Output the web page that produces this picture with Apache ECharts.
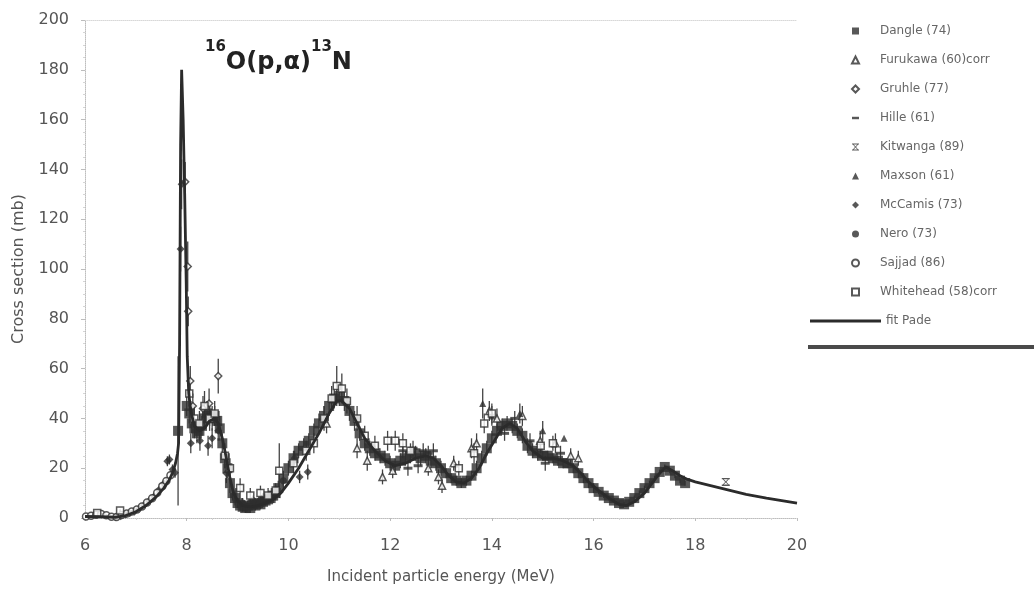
<!DOCTYPE html>
<html>
<head>
<meta charset="utf-8">
<script src="https://cdn.jsdelivr.net/npm/echarts@6/dist/echarts.min.js"></script>
<style>
  html, body { margin: 0; padding: 0; background: #fff; }
  #chart { width: 1034px; height: 596px; }
</style>
</head>
<body>
<div id="chart"></div>
<script>
// 16O(p,alpha)13N excitation function.
// each point: [energy MeV, cross section mb, error mb]
const fitE = [6.0, 6.3, 6.6, 6.8, 7.0, 7.2, 7.4, 7.55, 7.65, 7.72, 7.78, 7.82, 7.84, 7.86, 7.88, 7.9, 7.93, 7.96,
  7.99, 8.01, 8.04, 8.08, 8.15, 8.25, 8.35, 8.45, 8.55, 8.62, 8.7, 8.78, 8.85, 8.92, 9.0, 9.1, 9.25, 9.4, 9.55,
  9.7, 9.85, 10.0, 10.2, 10.4, 10.6, 10.8, 10.95, 11.05, 11.2, 11.35, 11.5, 11.7, 11.9, 12.1, 12.3, 12.5, 12.7,
  12.85, 13.0, 13.15, 13.3, 13.45, 13.6, 13.75, 13.9, 14.05, 14.2, 14.35, 14.5, 14.65, 14.8, 15.0, 15.2, 15.4,
  15.6, 15.75, 15.9, 16.1, 16.3, 16.5, 16.65, 16.8, 17.0, 17.15, 17.3, 17.42, 17.55, 17.7, 17.85, 18.0, 18.3,
  18.6, 19.0, 19.4, 19.7, 20.0];
const fitY = [0.6, 0.5, 0.3, 1.0, 2.5, 5, 8.5, 12, 15, 18, 22, 26, 30, 70, 150, 180, 160, 130,
  95, 65, 50, 43, 37, 35, 36, 39, 40, 38, 32, 24, 16, 10, 7, 5, 4.5, 5, 6,
  7.5, 10, 14, 20, 27, 34, 42, 47, 47, 44, 38, 32, 27, 23, 21, 22, 24, 25,
  24, 21, 17, 14.5, 14, 16, 20, 26, 31, 36, 38, 36, 31, 27, 24, 24, 23,
  21, 18, 14.5, 11, 8, 5.5, 5, 6.5, 10, 14, 18, 20.5, 19, 17, 15.5, 14.5, 13,
  11.5, 9.5, 8, 7, 6];

const dangle = [
  [7.83, 35, 30], [8.0, 45, 4], [8.05, 42, 4], [8.1, 38, 4], [8.15, 36, 4], [8.2, 34, 4],
  [8.25, 35, 4], [8.3, 37, 4], [8.35, 40, 4], [8.4, 42, 5], [8.45, 41, 4], [8.5, 40, 5], [8.55, 41, 4],
  [8.6, 39, 4], [8.65, 36, 5], [8.7, 30, 4], [8.75, 24, 4], [8.8, 20, 4], [8.85, 14, 4], [8.9, 10, 3],
  [8.95, 8, 3], [9.0, 6, 2], [9.05, 5, 2], [9.1, 4.5, 2], [9.15, 4, 2], [9.2, 5, 2], [9.25, 4, 2],
  [9.3, 5.5, 2], [9.35, 5, 2], [9.4, 6, 2], [9.45, 5.5, 2], [9.5, 6.5, 2], [9.55, 7, 2], [9.6, 7.5, 2],
  [9.65, 8, 2], [9.7, 9, 3], [9.75, 10, 3], [9.8, 12, 3], [9.9, 16, 3], [10.0, 20, 3], [10.1, 24, 3],
  [10.2, 27, 3], [10.3, 29, 3], [10.4, 31, 3], [10.5, 35, 3], [10.6, 38, 4], [10.7, 41, 4], [10.8, 45, 4],
  [10.9, 48, 4], [11.0, 49, 4], [11.1, 47, 4], [11.2, 43, 4], [11.3, 39, 4], [11.4, 34, 3], [11.5, 30, 3],
  [11.6, 28, 3], [11.7, 26, 3], [11.8, 25, 3], [11.9, 24, 3], [12.0, 22, 3], [12.1, 21, 3], [12.2, 23, 3],
  [12.3, 24, 3], [12.4, 25, 3], [12.5, 26, 3], [12.6, 24, 3], [12.7, 25, 3], [12.8, 23, 3], [12.9, 22, 3],
  [13.0, 20, 3], [13.1, 18, 2], [13.2, 16, 2], [13.3, 15, 2], [13.4, 14, 2], [13.5, 15, 2], [13.6, 17, 2],
  [13.7, 20, 3], [13.8, 24, 3], [13.9, 28, 3], [14.0, 32, 3], [14.1, 35, 3], [14.2, 37, 3], [14.3, 38, 3],
  [14.4, 37, 3], [14.5, 35, 3], [14.6, 33, 3], [14.7, 29, 3], [14.8, 27, 3], [14.9, 26, 3], [15.0, 25, 2],
  [15.1, 25, 2], [15.2, 24, 2], [15.3, 23, 2], [15.4, 22, 2], [15.5, 22, 2], [15.6, 20, 2], [15.7, 18, 2],
  [15.8, 16, 2], [15.9, 14, 2], [16.0, 12, 2], [16.1, 10.5, 1], [16.2, 9, 1], [16.3, 8, 1], [16.4, 7, 1],
  [16.5, 6, 1], [16.6, 5.5, 1], [16.7, 6.5, 1], [16.8, 8, 1], [16.9, 10, 1], [17.0, 12, 1], [17.1, 14, 1],
  [17.2, 16, 1], [17.3, 18.5, 1], [17.4, 20.5, 1], [17.5, 19, 1], [17.6, 17, 1], [17.7, 15, 1], [17.8, 14, 1]
];
const furukawa = [
  [10.75, 38, 4], [11.35, 28, 4], [11.55, 23, 4], [11.85, 16.5, 3], [12.05, 19, 3], [12.75, 20, 3],
  [12.95, 16.5, 3], [13.02, 13, 3], [13.25, 22, 3], [13.6, 28, 4], [13.7, 30, 4], [13.95, 43, 4],
  [14.1, 40, 4], [14.6, 41, 4], [14.95, 31, 4], [15.25, 30, 4], [15.55, 25, 3], [15.7, 24, 3]
];
const gruhle = [
  [7.97, 135, 8], [8.02, 101, 10], [8.03, 83, 6], [8.07, 55, 6], [8.12, 45, 5], [8.32, 44, 5],
  [8.44, 46, 6], [8.62, 57, 7]
];
const hille = [
  [12.25, 27, 3], [12.35, 20, 3], [12.45, 28, 3], [12.55, 21, 3], [12.65, 27, 3], [12.75, 26, 3],
  [12.85, 27, 3], [14.25, 34, 3], [14.45, 40, 3], [14.75, 31, 3], [15.05, 22, 3], [15.35, 26, 3]
];
const kitwanga = [[18.6, 14.5, 0]];
const maxson = [[13.82, 46, 6], [14.0, 41, 4], [14.55, 42, 4], [15.0, 35, 4], [15.42, 32, 0]];
const mccamis = [
  [6.6, 0.3, 0.5], [6.7, 0.7, 0.5], [6.8, 1.4, 0.5], [6.88, 1.9, 0.6], [6.97, 2.5, 0.6], [7.06, 3.6, 0.7],
  [7.16, 5.1, 0.8], [7.26, 6.8, 0.9], [7.36, 8.7, 1.0], [7.46, 11.4, 1.2], [7.55, 13.9, 1.4],
  [7.62, 22.8, 2], [7.66, 23.5, 2], [7.72, 19.5, 2], [7.77, 18.2, 2], [7.88, 108, 9], [7.9, 134, 10],
  [8.08, 30, 4], [8.26, 31, 4], [8.42, 29, 4], [8.5, 32, 4], [8.62, 35, 4], [8.78, 18, 4],
  [10.12, 24, 3], [10.22, 16.5, 2.5], [10.38, 18.5, 3]
];
const nero = [[9.1, 6, 2], [9.3, 7, 2], [9.5, 8, 2], [9.7, 9, 2], [9.9, 15, 3]];
const sajjad = [
  [6.02, 0.6, 0.4], [6.12, 0.9, 0.4], [6.22, 1.3, 0.5], [6.32, 1.6, 0.5], [6.42, 1.1, 0.4], [6.52, 0.5, 0.4],
  [6.62, 0.4, 0.4], [6.72, 1.2, 0.5], [6.82, 1.8, 0.5], [6.92, 2.6, 0.6], [7.02, 3.4, 0.6], [7.12, 4.6, 0.7],
  [7.22, 6.2, 0.8], [7.32, 7.9, 0.9], [7.42, 10.1, 1.0], [7.52, 12.8, 1.2], [7.6, 14.9, 1.3], [7.68, 17.2, 1.5]
];
const whitehead = [
  [6.24, 2, 0.5], [6.69, 3, 0.5], [8.05, 50, 5], [8.15, 40, 5], [8.25, 38, 5], [8.35, 45, 6], [8.45, 40, 5],
  [8.55, 42, 5], [8.75, 25, 5], [8.85, 20, 4], [9.05, 12, 4], [9.25, 9, 3], [9.45, 10, 3], [9.6, 9, 3],
  [9.75, 11, 3], [9.82, 19, 11], [10.1, 22, 4], [10.35, 27, 4], [10.5, 30, 4], [10.7, 40, 5], [10.85, 48, 5],
  [10.95, 53, 8], [11.05, 52, 6], [11.15, 47, 5], [11.35, 40, 5], [11.5, 33, 4], [11.7, 29, 4], [11.95, 31, 4],
  [12.1, 31, 4], [12.25, 30, 4], [12.4, 27, 3], [13.35, 20, 3], [13.65, 26, 4], [13.85, 38, 4], [14.0, 42, 4],
  [14.96, 29, 3], [15.2, 30, 3]
];

const INK = '#2e2e2e';
const MUTED = '#555';
const AXIS_C = '#bdbdbd';
const FONT = 'DejaVu Sans, Liberation Sans, sans-serif';
const ASTERISK = 'path://M0,0H10V1.6H0Z M0,8.4H10V10H0Z M1.2,1.6L2.4,1.6L5,4.2L7.6,1.6L8.8,1.6L5.8,5L8.8,8.4L7.6,8.4L5,5.8L2.4,8.4L1.2,8.4L4.2,5Z';

const sets = [
  { name: 'Dangle (74)', data: dangle, symbol: 'rect', size: 10 },
  { name: 'Furukawa (60)corr', data: furukawa, symbol: 'triangle', open: true },
  { name: 'Gruhle (77)', data: gruhle, symbol: 'diamond', open: true },
  { name: 'Hille (61)', data: hille, symbol: 'path://M0,0H10V3.5H0Z', size: [9, 3] },
  { name: 'Kitwanga (89)', data: kitwanga, symbol: ASTERISK, size: 8 },
  { name: 'Maxson (61)', data: maxson, symbol: 'triangle' },
  { name: 'McCamis (73)', data: mccamis, symbol: 'diamond', size: 8 },
  { name: 'Nero (73)', data: nero, symbol: 'circle' },
  { name: 'Sajjad (86)', data: sajjad, symbol: 'circle', open: true },
  { name: 'Whitehead (58)corr', data: whitehead, symbol: 'rect', open: true },
];

// one custom series draws every vertical error bar
const errData = [];
sets.forEach((s) => s.data.forEach((d) => {
  if (d[2] > 0) errData.push([d[0], d[1] - d[2], d[1] + d[2]]);
}));

function renderErr(params, api) {
  const hi = api.coord([api.value(0), api.value(2)]);
  const lo = api.coord([api.value(0), api.value(1)]);
  return {
    type: 'line',
    shape: { x1: hi[0], y1: hi[1], x2: lo[0], y2: lo[1] },
    style: { stroke: '#444', lineWidth: 1.3 },
  };
}

const series = [{
  type: 'custom', name: 'err', data: errData, renderItem: renderErr,
  encode: { x: 0, y: [1, 2] }, silent: true, z: 1,
}];
sets.forEach((s) => {
  series.push({
    name: s.name, type: 'scatter', z: 2,
    data: s.data.map((d) => [d[0], d[1]]),
    symbol: s.symbol, symbolSize: s.size || 7,
    itemStyle: s.open
      ? { color: '#fff', borderColor: INK, borderWidth: 1.5 }
      : { color: INK },
  });
});
series.push({
  name: 'fit Pade', type: 'line', z: 3, symbol: 'none',
  data: fitE.map((e, i) => [e, fitY[i]]),
  itemStyle: { color: '#2b2b2b' },
  lineStyle: { color: '#2b2b2b', width: 2.8 },
});

const legendText = { color: '#666', fontFamily: FONT, fontSize: 12, lineHeight: 14 };

const chart = echarts.init(document.getElementById('chart'), null, { renderer: 'canvas' });
chart.setOption({
  animation: false,
  backgroundColor: '#fff',
  grid: { left: 85, right: 237, top: 20, bottom: 78 },
  legend: [{
    orient: 'vertical', left: 846, top: 19, itemWidth: 7, itemHeight: 7, itemGap: 15,
    selectedMode: false,
    textStyle: Object.assign({ padding: [0, 0, 0, 16] }, legendText),
    data: sets.map((s) => s.name),
  }, {
    orient: 'vertical', left: 805, top: 309, itemWidth: 71, itemHeight: 3, itemGap: 0,
    selectedMode: false, textStyle: legendText,
    data: [{ name: 'fit Pade', icon: 'rect' }],
  }],
  xAxis: [{
    type: 'value', min: 6, max: 20, interval: 2,
    name: 'Incident particle energy (MeV)', nameLocation: 'middle', nameGap: 52,
    nameTextStyle: { color: MUTED, fontFamily: FONT, fontSize: 15 },
    axisLine: { lineStyle: { color: AXIS_C, type: 'dotted' } },
    axisTick: { show: true, length: 3, lineStyle: { color: AXIS_C } },
    minorTick: { show: true, splitNumber: 4, length: 2, lineStyle: { color: '#d5d5d5' } },
    axisLabel: { color: MUTED, fontFamily: FONT, fontSize: 16, margin: 20 },
    splitLine: { show: false },
  }, {
    type: 'value', min: 6, max: 20, position: 'top',
    axisLine: { lineStyle: { color: '#d8d8d8', type: 'dotted' } },
    axisTick: { show: false }, axisLabel: { show: false }, splitLine: { show: false },
  }],
  yAxis: {
    type: 'value', min: 0, max: 200, interval: 20,
    name: 'Cross section (mb)', nameLocation: 'middle', nameGap: 58,
    nameTextStyle: { color: MUTED, fontFamily: FONT, fontSize: 16 },
    axisLine: { show: true, lineStyle: { color: AXIS_C, type: 'dotted' } },
    axisTick: { show: true, length: 4, lineStyle: { color: AXIS_C } },
    minorTick: { show: true, splitNumber: 4, length: 2, lineStyle: { color: '#d5d5d5' } },
    axisLabel: { color: MUTED, fontFamily: FONT, fontSize: 16, margin: 16 },
    splitLine: { show: false },
  },
  graphic: [{
    type: 'text', left: 205, top: 40, z: 10,
    style: {
      text: '{s|16}{b|O(p,α)}{s|13}{b|N}',
      fill: '#222',
      rich: {
        s: { fontFamily: FONT, fontSize: 15, fontWeight: 'bold', verticalAlign: 'top', lineHeight: 15, fill: '#222' },
        b: { fontFamily: FONT, fontSize: 24, fontWeight: 'bold', lineHeight: 46, fill: '#222' },
      },
    },
  }, {
    // heavy rule under the legend box in the scan
    type: 'rect', left: 808, top: 345, z: 10,
    shape: { width: 226, height: 4 }, style: { fill: '#4a4a4a' },
  }],
  series,
});
</script>
</body>
</html>
